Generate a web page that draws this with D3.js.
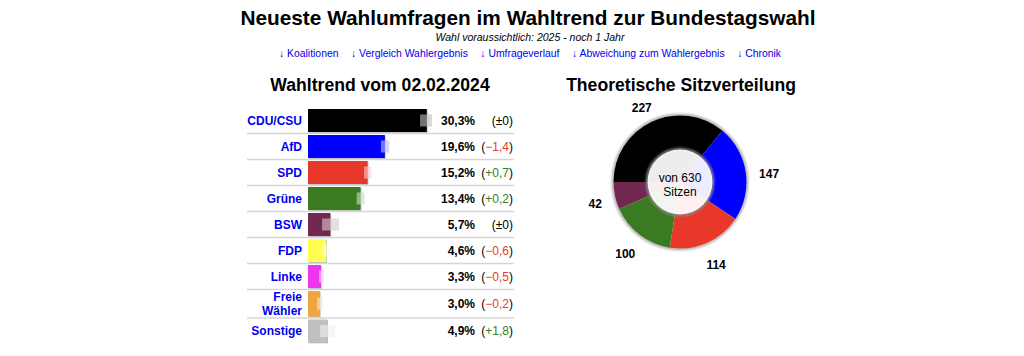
<!DOCTYPE html>
<html><head><meta charset="utf-8">
<script src="https://cdn.jsdelivr.net/npm/d3@7"></script>
<style>
html,body{margin:0;padding:0;background:#fff;}
svg{display:block;font-family:"Liberation Sans",Arial,Helvetica,sans-serif;}
</style></head>
<body><svg id="chart" width="1024" height="356"></svg>
<script>
// ---- data ----
const title = "Neueste Wahlumfragen im Wahltrend zur Bundestagswahl";
const subtitle = "Wahl voraussichtlich: 2025 - noch 1 Jahr";
const navLinks = ["Koalitionen", "Vergleich Wahlergebnis", "Umfrageverlauf", "Abweichung zum Wahlergebnis", "Chronik"];
const barTitle = "Wahltrend vom 02.02.2024";
const pieTitle = "Theoretische Sitzverteilung";
const parties = ["CDU/CSU", "AfD", "SPD", "Grüne", "BSW", "FDP", "Linke", "Freie Wähler", "Sonstige"];
const values = [30.3, 19.6, 15.2, 13.4, 5.7, 4.6, 3.3, 3.0, 4.9];
const changes = [0, -1.4, 0.7, 0.2, 0, -0.6, -0.5, -0.2, 1.8];
const rangeLow = [28.6, 18.6, 14.3, 12.4, 3.6, 3.6, 2.8, 2.3, 3.1];
const rangeHigh = [31.6, 20.7, 16.1, 14.4, 7.9, 5.6, 4.1, 3.8, 6.9];
const partyColors = ["#000000", "#0000ff", "#e8382a", "#3a7b22", "#722850", "#ffff50", "#ee36ee", "#f0a53e", "#c0c0c0"];
const seatParties = ["CDU/CSU", "AfD", "SPD", "Grüne", "BSW"];
const seats = [227, 147, 114, 100, 42];
const seatColors = ["#000000", "#0000ff", "#e8382a", "#3a7b22", "#722850"];
const totalSeatsLabel = ["von 630", "Sitzen"];

// ---- drawing ----
const svg = d3.select("#chart");
const defs = svg.append("defs");
const blur = defs.append("filter").attr("id", "soft").attr("x", "-20%").attr("y", "-20%").attr("width", "140%").attr("height", "140%");
blur.append("feGaussianBlur").attr("stdDeviation", 1.2);

const linkBlue = "#0000ee";

svg.append("text").attr("x", 528).attr("y", 25).attr("text-anchor", "middle")
  .attr("font-size", 20.8).attr("font-weight", "bold").attr("fill", "#000").text(title);
svg.append("text").attr("x", 530).attr("y", 41).attr("text-anchor", "middle")
  .attr("font-size", 10.5).attr("font-style", "italic").attr("fill", "#000").text(subtitle);

// nav links
const nav = svg.append("g");
const navTexts = nav.selectAll("text").data(navLinks).join("text")
  .attr("y", 57).attr("font-size", 10.4).attr("fill", linkBlue)
  .text(d => "\u2193 " + d);
const gap = 12.5;
const widths = [];
navTexts.each(function(){ widths.push(this.getComputedTextLength()); });
const totalW = d3.sum(widths) + gap * (widths.length - 1);
let cx = 530 - totalW / 2;
navTexts.attr("x", (d, i) => { const x = cx; cx += widths[i] + gap; return x; });

// section titles
svg.append("text").attr("x", 380).attr("y", 91).attr("text-anchor", "middle")
  .attr("font-size", 17.6).attr("font-weight", "bold").text(barTitle);
svg.append("text").attr("x", 681).attr("y", 91).attr("text-anchor", "middle")
  .attr("font-size", 17.6).attr("font-weight", "bold").text(pieTitle);

// ---- bar chart ----
const rows = parties.map((p, i) => ({
  party: p, value: values[i], change: changes[i], lo: rangeLow[i], hi: rangeHigh[i],
  color: partyColors[i], lines: p === "Freie Wähler" ? ["Freie", "Wähler"] : [p]
}));
let yTop = 107.5;
rows.forEach(r => { r.h = r.lines.length > 1 ? 28.5 : 26; r.top = yTop; yTop += r.h; });

const x = d3.scaleLinear().domain([0, 35]).range([308, 445.2]);
const g = svg.append("g");

// separators
g.selectAll("line.sep").data(rows.slice(1)).join("line").attr("class", "sep")
  .attr("x1", 247).attr("x2", 514).attr("y1", d => d.top).attr("y2", d => d.top)
  .attr("stroke", "#d6d6d6").attr("stroke-width", 1.5);

const rowG = g.selectAll("g.row").data(rows).join("g").attr("class", "row");
// bar shadow
rowG.append("rect")
  .attr("x", x(0) + 0.8).attr("y", d => d.top + 2.3)
  .attr("width", d => x(d.value) - x(0)).attr("height", d => d.h - 3)
  .attr("fill", "#b8b8b8");
rowG.append("rect")
  .attr("x", x(0)).attr("y", d => d.top + 1.5)
  .attr("width", d => x(d.value) - x(0)).attr("height", d => d.h - 3)
  .attr("fill", d => d.color);
// range ghost
rowG.append("rect")
  .attr("x", d => x(d.lo)).attr("y", d => d.top + d.h / 2 - 6)
  .attr("width", d => x(d.hi) - x(d.lo)).attr("height", 12)
  .attr("fill", d => d.color).attr("opacity", 0.28);
rowG.append("rect")
  .attr("x", d => x(d.lo)).attr("y", d => d.top + d.h / 2 - 6)
  .attr("width", d => x(d.hi) - x(d.lo)).attr("height", 12)
  .attr("fill", "#fff").attr("opacity", 0.45);

// labels
rowG.each(function(d){
  const t = d3.select(this).append("text").attr("text-anchor", "end")
    .attr("font-size", 12).attr("font-weight", "bold").attr("fill", linkBlue);
  const n = d.lines.length;
  d.lines.forEach((ln, k) => {
    t.append("tspan").attr("x", 302)
      .attr("y", d.top + d.h / 2 + 4.3 + (k - (n - 1) / 2) * 13.5).text(ln);
  });
});
const fmt = v => d3.format(".1f")(Math.abs(v)).replace(".", ",");
rowG.append("text").attr("x", 475).attr("y", d => d.top + d.h / 2 + 4.3)
  .attr("text-anchor", "end").attr("font-size", 12).attr("font-weight", "bold")
  .text(d => fmt(d.value) + "%");
const ch = rowG.append("text").attr("x", 513).attr("y", d => d.top + d.h / 2 + 4.3)
  .attr("text-anchor", "end").attr("font-size", 12);
ch.append("tspan").text("(");
ch.append("tspan")
  .attr("fill", d => d.change < 0 ? "#e63b2e" : d.change > 0 ? "#3a7d22" : "#000")
  .text(d => d.change === 0 ? "\u00b10" : (d.change < 0 ? "\u2212" : "+") + fmt(d.change));
ch.append("tspan").text(")");

// ---- donut ----
const pcx = 680, pcy = 182, R = 66.5, r0 = 32.5;
const pie = d3.pie().sort(null).value(d => d.seats).startAngle(-Math.PI / 2).endAngle(1.5 * Math.PI);
const seatData = seatParties.map((p, i) => ({ party: p, seats: seats[i], color: seatColors[i] }));
const arcs = pie(seatData);
const pg = svg.append("g").attr("transform", `translate(${pcx},${pcy})`);
pg.append("circle").attr("r", R + 0.5).attr("fill", "none").attr("stroke", "#aaa").attr("stroke-width", 2.5).attr("filter", "url(#soft)");
const arc = d3.arc().innerRadius(0).outerRadius(R);
pg.selectAll("path.slice").data(arcs).join("path").attr("class", "slice")
  .attr("d", arc).attr("fill", d => d.data.color);
pg.append("circle").attr("r", r0 + 0.5).attr("fill", "none").attr("stroke", "#888").attr("stroke-width", 2.5).attr("filter", "url(#soft)");
pg.append("circle").attr("r", r0).attr("fill", "#fff").attr("opacity", 0.93);
pg.append("text").attr("text-anchor", "middle").attr("font-size", 12)
  .selectAll("tspan").data(totalSeatsLabel).join("tspan")
  .attr("x", 0).attr("y", (d, i) => -0.5 + i * 14).text(d => d);
// seat labels: outside the ring, pushed outward by half the label box
const labelR = 76;
pg.selectAll("text.seat").data(arcs).join("text").attr("class", "seat")
  .attr("font-size", 12).attr("font-weight", "bold").attr("text-anchor", "middle")
  .attr("dy", "0.35em").text(d => d.data.seats)
  .attr("transform", function(d){
    const a = (d.startAngle + d.endAngle) / 2;
    const w = this.getComputedTextLength(), h = 12;
    const sx = Math.sin(a), cy = -Math.cos(a);
    const px = sx * labelR + sx * (w / 2 + 4), py = cy * labelR + cy * (h / 2 + 4) + 4;
    return `translate(${px},${py})`;
  });
</script></body></html>
